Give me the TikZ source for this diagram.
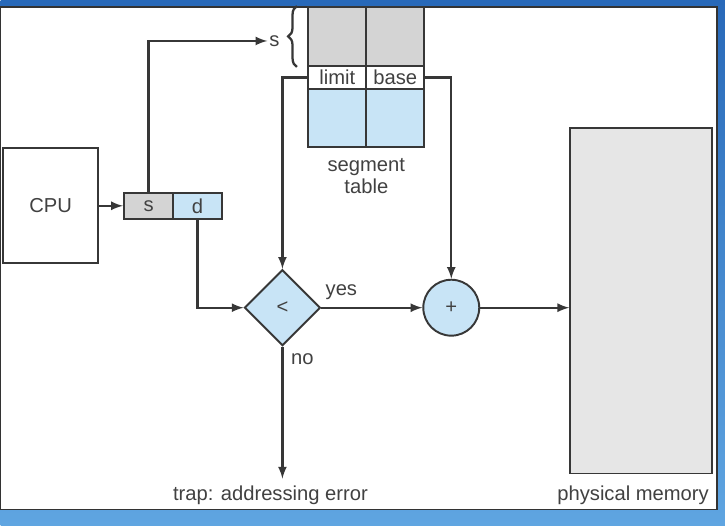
\documentclass[tikz,border=0pt]{standalone}
\usepackage{fontspec}
\setmainfont{Liberation Sans}
\usepackage{xcolor}
\usetikzlibrary{positioning,shapes.geometric,decorations.pathreplacing}

\definecolor{segblue}{RGB}{200,228,246}
\definecolor{seggray}{RGB}{212,212,212}
\definecolor{memgray}{RGB}{230,230,230}
\definecolor{linegray}{RGB}{55,55,55}
\definecolor{textgray}{RGB}{65,65,65}
\definecolor{frametop}{RGB}{40,105,185}
\definecolor{framebot}{RGB}{95,165,225}

\begin{document}
\begin{tikzpicture}[x=0.02cm, y=-0.02cm, >=latex,
  every node/.style={text=textgray, font=\fontsize{11.5}{12.5}\selectfont},
  box/.style={rectangle, draw=linegray, line width=1.1pt, inner sep=0pt},
  sdcell/.style={box, minimum width=0.99cm, minimum height=0.52cm},
  tabcell/.style={box, minimum width=1.16cm},
  label/.style={inner sep=1pt},
  conn/.style={line width=1.3pt, linegray}]

% frame of the slide
\shade[top color=frametop, bottom color=framebot] (0,0) rectangle (725,526);
\draw[fill=white, thick, draw=black!80] (0,7) rectangle (717,510);

\node[box, minimum width=1.9cm, minimum height=2.3cm] at (50,206) (cpu) {CPU};
\node[sdcell, fill=seggray] at (148,206) (s) {s};
\node[sdcell, fill=segblue] at (197,206) (d) {d};

\node[tabcell, fill=seggray, minimum height=1.18cm] at (337,36.5) (tg1) {};
\node[tabcell, fill=seggray, minimum height=1.18cm] at (395,36.5) (tg2) {};
\node[tabcell, fill=white, minimum height=0.46cm] at (337,77.5) (limit) {limit};
\node[tabcell, fill=white, minimum height=0.46cm] at (395,77.5) (base) {base};
\node[tabcell, fill=segblue, minimum height=1.16cm] at (337,118) (tb1) {};
\node[tabcell, fill=segblue, minimum height=1.16cm] at (395,118) (tb2) {};
\node[align=center] at (366,176) (segtab) {segment\\table};
\node[label] at (274,41) (slabel) {s};

\node[diamond, draw=linegray, line width=1.1pt, fill=segblue, minimum size=1.52cm, inner sep=0pt] at (282,308) (lt) {<};
\node[circle, draw=linegray, line width=1.1pt, fill=segblue, minimum size=1.12cm, inner sep=0pt] at (451,308) (plus) {+};
\node[box, fill=memgray, minimum width=2.84cm, minimum height=6.92cm] at (641,301) (mem) {};

\node[label] at (341,292) (yes) {yes};
\node[label] at (302,360) (no) {no};
\node at (270,496) (trap) {trap: addressing error};
\node at (633,496) (memlabel) {physical memory};
\coordinate (trapend) at (282,479);

\draw[conn, ->] (cpu) -- (s);
\draw[conn, ->] (s.north) |- (slabel.west);
\draw[conn, decorate, decoration={brace, amplitude=5pt}] ([xshift=-6pt]tg1.south west) -- ([xshift=-6pt]tg1.north west);
\draw[conn, ->] (limit.west) -| (lt.north);
\draw[conn, ->] (base.east) -| (plus.north);
\draw[conn, ->] (d.south) |- (lt.west);
\draw[conn, ->] (lt.east) -- (plus.west);
\draw[conn, ->] (plus.east) -- (plus -| mem.west);
\draw[conn, ->] (lt.south) -- (trapend);

\end{tikzpicture}
\end{document}
